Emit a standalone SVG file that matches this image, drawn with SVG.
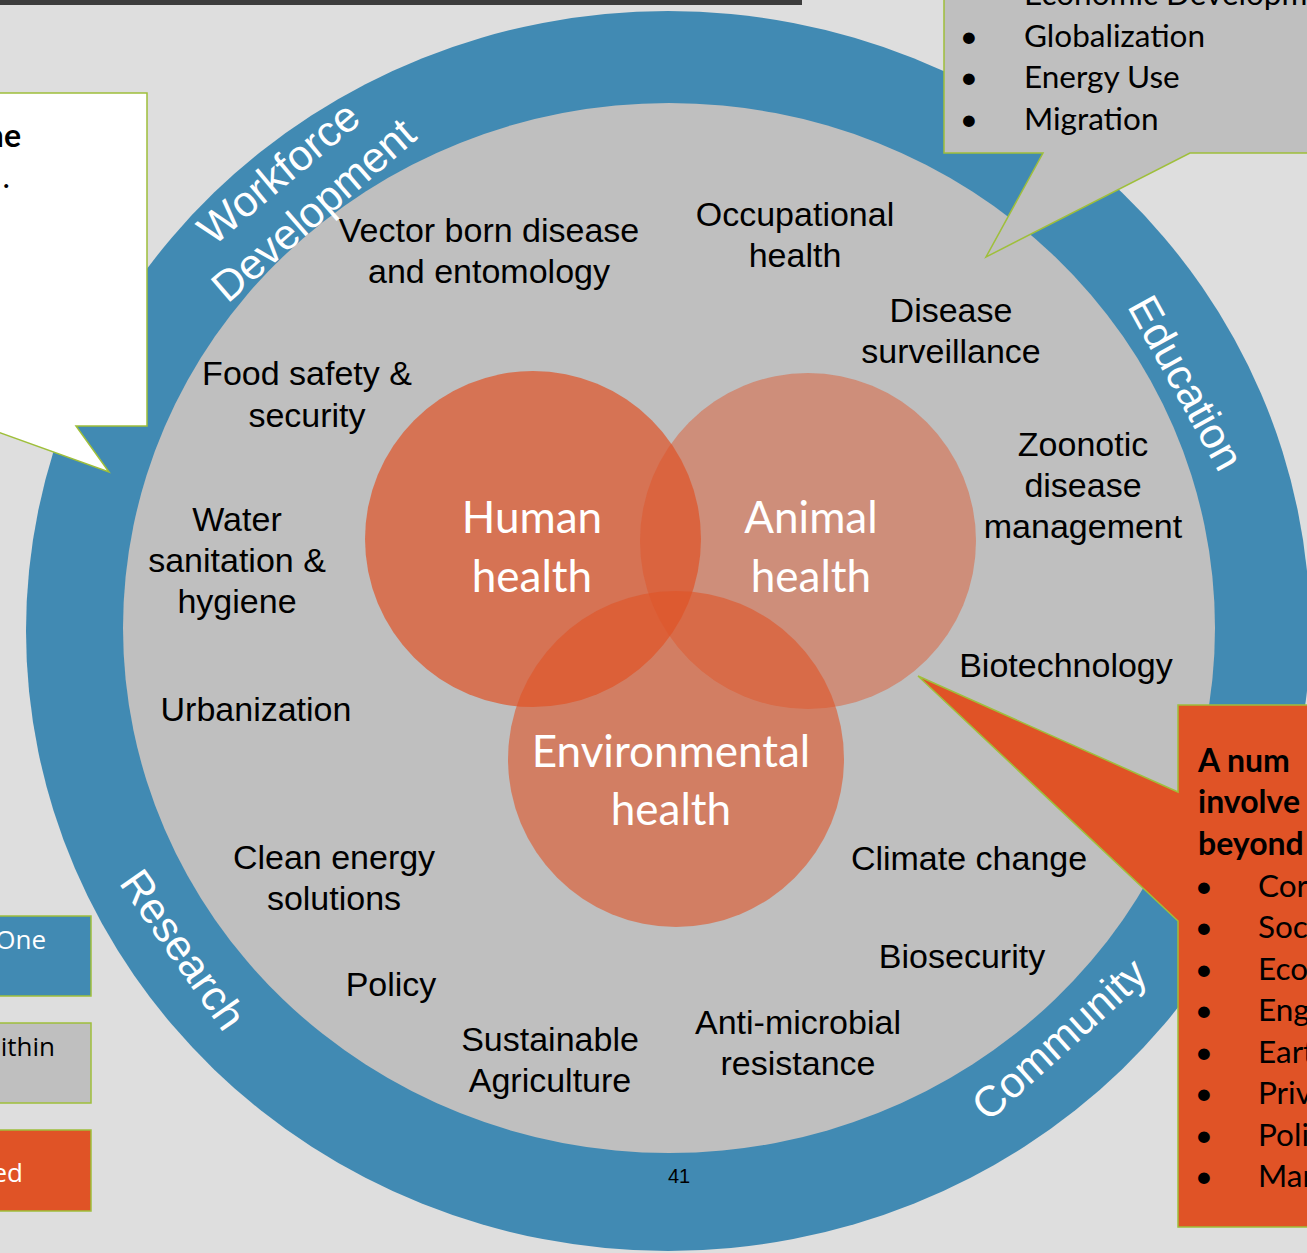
<svg xmlns="http://www.w3.org/2000/svg" width="1307" height="1253" viewBox="0 0 1307 1253">
<style>
.lbl{font-family:"Liberation Sans",Arial,sans-serif;font-size:34px;fill:#000;text-anchor:middle}
.ring{font-family:"Liberation Sans",Arial,sans-serif;font-size:43px;fill:#fff;text-anchor:middle}
.venn{font-family:Lato,"Open Sans",sans-serif;font-size:44px;fill:#fff;text-anchor:middle}
.gill{font-family:Lato,"Open Sans",sans-serif;font-size:31.5px;fill:#000}
.gillb{font-family:Lato,"Open Sans",sans-serif;font-size:32px;font-weight:bold;fill:#000}
.leg{font-family:"Open Sans","Noto Sans",sans-serif;font-size:26px}
.call{stroke:#9fbf3b;stroke-width:1.5}
</style>
<rect x="0" y="0" width="1307" height="1253" fill="#dedede"/>
<rect x="0" y="0" width="802" height="5" fill="#3d3d3d"/>
<g id="ring">
<ellipse cx="668" cy="631" rx="642" ry="620" fill="#418ab3"/>
<ellipse cx="669" cy="628" rx="546" ry="525" fill="#bfbfbf"/>
</g>
<g id="left-callout">
<polygon class="call" points="-5,93 147,93 147,426 76,426 109,472 -5,431" fill="#ffffff"/>
<text class="gillb" x="21" y="147" text-anchor="end">ne</text>
<text class="gill" x="10" y="188" text-anchor="end">.</text>
</g>
<g id="topright-callout">
<polygon class="call" points="944,-5 1312,-5 1312,153 1190,153 986,257 1043,153 944,153" fill="#bfbfbf"/>
<text class="gill" x="1024" y="5">Economic Developm</text>
<text class="gill" x="969" y="47" text-anchor="middle">•</text>
<text class="gill" x="1024" y="47">Globalization</text>
<text class="gill" x="969" y="88" text-anchor="middle">•</text>
<text class="gill" x="1024" y="88">Energy Use</text>
<text class="gill" x="969" y="130" text-anchor="middle">•</text>
<text class="gill" x="1024" y="130">Migration</text>
</g>
<g id="venn">
<g id="human"><circle cx="533" cy="539" r="168" fill="#e05326" fill-opacity="0.7"/></g>
<g id="animal"><circle cx="808" cy="541" r="168" fill="#e05326" fill-opacity="0.45"/></g>
<g id="environmental"><circle cx="676" cy="759" r="168" fill="#e05326" fill-opacity="0.6"/></g>
<text class="venn" x="532" y="533">Human</text>
<text class="venn" x="532" y="592">health</text>
<text class="venn" x="811" y="533">Animal</text>
<text class="venn" x="811" y="592">health</text>
<text class="venn" x="671" y="767">Environmental</text>
<text class="venn" x="671" y="825">health</text>
</g>
<g id="labels">
<text class="lbl" x="489" y="242">Vector born disease</text>
<text class="lbl" x="489" y="283">and entomology</text>
<text class="lbl" x="795" y="226">Occupational</text>
<text class="lbl" x="795" y="267">health</text>
<text class="lbl" x="951" y="322">Disease</text>
<text class="lbl" x="951" y="363">surveillance</text>
<text class="lbl" x="307" y="385">Food safety &amp;</text>
<text class="lbl" x="307" y="427">security</text>
<text class="lbl" x="1083" y="456">Zoonotic</text>
<text class="lbl" x="1083" y="497">disease</text>
<text class="lbl" x="1083" y="538">management</text>
<text class="lbl" x="237" y="531">Water</text>
<text class="lbl" x="237" y="572">sanitation &amp;</text>
<text class="lbl" x="237" y="613">hygiene</text>
<text class="lbl" x="1066" y="677">Biotechnology</text>
<text class="lbl" x="256" y="721">Urbanization</text>
<text class="lbl" x="334" y="869">Clean energy</text>
<text class="lbl" x="334" y="910">solutions</text>
<text class="lbl" x="969" y="870">Climate change</text>
<text class="lbl" x="962" y="968">Biosecurity</text>
<text class="lbl" x="391" y="996">Policy</text>
<text class="lbl" x="798" y="1034">Anti-microbial</text>
<text class="lbl" x="798" y="1075">resistance</text>
<text class="lbl" x="550" y="1051">Sustainable</text>
<text class="lbl" x="550" y="1092">Agriculture</text>
</g>
<g id="ring-labels">
<text class="ring" transform="translate(288,184) rotate(-40)">Workforce</text>
<text class="ring" transform="translate(323,221) rotate(-41)">Development</text>
<text class="ring" transform="translate(1173,390) rotate(61)">Education</text>
<text class="ring" transform="translate(171,958) rotate(55)">Research</text>
<text class="ring" transform="translate(1069,1050) rotate(-42)">Community</text>
</g>
<g id="right-callout">
<polygon class="call" points="1178,705 1312,705 1312,1227 1178,1227 1178,921 918,676 1178,792" fill="#e05326"/>
<text class="gillb" x="1198" y="772">A num</text>
<text class="gillb" x="1198" y="813">involve</text>
<text class="gillb" x="1198" y="855">beyond</text>
<g class="gill" text-anchor="middle">
<text x="1204" y="897">•</text><text x="1204" y="938">•</text><text x="1204" y="980">•</text><text x="1204" y="1021">•</text>
<text x="1204" y="1063">•</text><text x="1204" y="1104">•</text><text x="1204" y="1146">•</text><text x="1204" y="1187">•</text>
</g>
<text class="gill" x="1258" y="897">Cor</text>
<text class="gill" x="1258" y="938">Soc</text>
<text class="gill" x="1258" y="980">Eco</text>
<text class="gill" x="1258" y="1021">Eng</text>
<text class="gill" x="1258" y="1063">Eart</text>
<text class="gill" x="1258" y="1104">Priv</text>
<text class="gill" x="1258" y="1146">Poli</text>
<text class="gill" x="1258" y="1187">Mar</text>
</g>
<g id="legend">
<g id="legend-blue"><rect class="call" x="-5" y="916" width="96" height="80" fill="#418ab3"/>
<text class="leg" x="46" y="949" text-anchor="end" fill="#fff">One</text></g>
<g id="legend-gray"><rect class="call" x="-5" y="1023" width="96" height="80" fill="#bfbfbf"/>
<text class="leg" x="55" y="1056" text-anchor="end" fill="#000">ithin</text></g>
<g id="legend-orange"><rect class="call" x="-5" y="1130" width="96" height="81" fill="#e05326"/>
<text class="leg" x="23" y="1182" text-anchor="end" fill="#fff">ed</text></g>
</g>
<text x="679" y="1183" font-family="'Liberation Sans',Arial,sans-serif" font-size="20" text-anchor="middle" fill="#000">41</text>
</svg>
